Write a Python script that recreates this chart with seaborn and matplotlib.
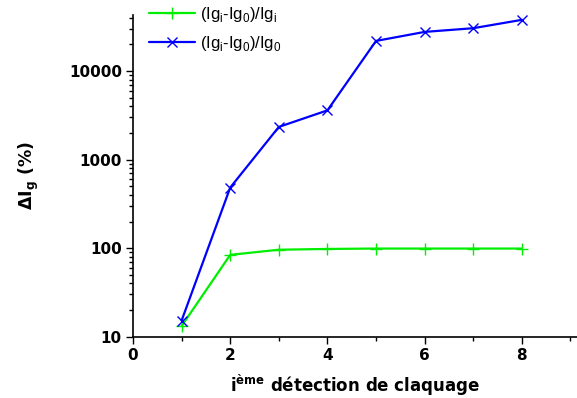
import matplotlib
matplotlib.use("Agg")
import matplotlib.pyplot as plt
import matplotlib.ticker as mticker
import seaborn as sns
import pandas as pd

x_vals = [1, 2, 3, 4, 5, 6, 7, 8]
ratio_i = [13.2, 84, 96, 98, 99, 99, 99, 99]
ratio_0 = [15.2, 483, 2340, 3600, 21900, 27700, 30500, 37900]
label_i = r"(Ig$_\mathregular{i}$-Ig$_\mathregular{0}$)/Ig$_\mathregular{i}$"
label_0 = r"(Ig$_\mathregular{i}$-Ig$_\mathregular{0}$)/Ig$_\mathregular{0}$"
y_ticks = [10, 100, 1000, 10000]
x_ticks = [0, 2, 4, 6, 8]

sns.set_style("ticks")
plt.rcParams['font.family'] = ['DejaVu Sans']
plt.rcParams['mathtext.fontset'] = 'custom'
plt.rcParams['mathtext.rm'] = 'Liberation Sans'
plt.rcParams['mathtext.bf'] = 'DejaVu Sans:bold'
for k in ['text.color', 'axes.labelcolor', 'xtick.color', 'ytick.color']:
    plt.rcParams[k] = 'black'

fig = plt.figure(figsize=(5.77, 3.98), dpi=100)
ax = fig.add_axes([133/577, (398-336.7)/398, (577-133)/577, (336.7-15)/398])

df_i = pd.DataFrame({"x": x_vals, "y": ratio_i})
df_0 = pd.DataFrame({"x": x_vals, "y": ratio_0})
green = "#00ee00"
blue = "#0000ff"
sns.lineplot(data=df_i, x="x", y="y", ax=ax, color=green, linewidth=1.6,
             marker="+", markersize=8, markeredgewidth=1.0, markeredgecolor=green,
             label=label_i)
sns.lineplot(data=df_0, x="x", y="y", ax=ax, color=blue, linewidth=1.6,
             marker="x", markersize=6.5, markeredgewidth=1.0, markeredgecolor=blue,
             label=label_0)

ax.set_yscale("log")
ax.set_ylim(10, 43000)
ax.set_xlim(0, (577-133)/48.6)
ax.set_xticks(x_ticks)
ax.xaxis.set_minor_locator(mticker.MultipleLocator(1))
ax.set_yticks(y_ticks)
ax.yaxis.set_major_formatter(mticker.FixedFormatter([str(v) for v in y_ticks]))
ax.yaxis.set_minor_locator(mticker.LogLocator(base=10, subs=range(2, 10)))
ax.yaxis.set_minor_formatter(mticker.NullFormatter())
for lbl in ax.get_xticklabels() + ax.get_yticklabels():
    lbl.set_fontweight("bold")
    lbl.set_fontsize(11)
    lbl.set_family("DejaVu Sans")
    lbl.set_color("black")
ax.tick_params(axis="both", which="major", direction="out", length=5, width=1, color="black", pad=3)
ax.tick_params(axis="both", which="minor", direction="out", length=3, width=1, color="black")
sns.despine(ax=ax)
for s in ["left", "bottom"]:
    ax.spines[s].set_color("black")
    ax.spines[s].set_linewidth(1.2)

ax.set_xlabel(r"i$^\mathbf{ème}$ détection de claquage", fontsize=12, fontweight="bold",
              labelpad=7, family="DejaVu Sans", color="black")
ax.set_ylabel(r"ΔI$_\mathbf{g}$ (%)", fontsize=12.5, fontweight="bold", labelpad=20,
              family="DejaVu Sans", color="black")

leg = ax.legend(loc="upper left", bbox_to_anchor=(142/577, 1.005), bbox_transform=fig.transFigure,
                frameon=False, handlelength=2.8, handletextpad=0.3,
                labelspacing=0.6, borderaxespad=0.0,
                prop={"family": "Liberation Sans", "size": 12})
for t in leg.get_texts():
    t.set_color("black")

fig.savefig("out.png", dpi=100)
